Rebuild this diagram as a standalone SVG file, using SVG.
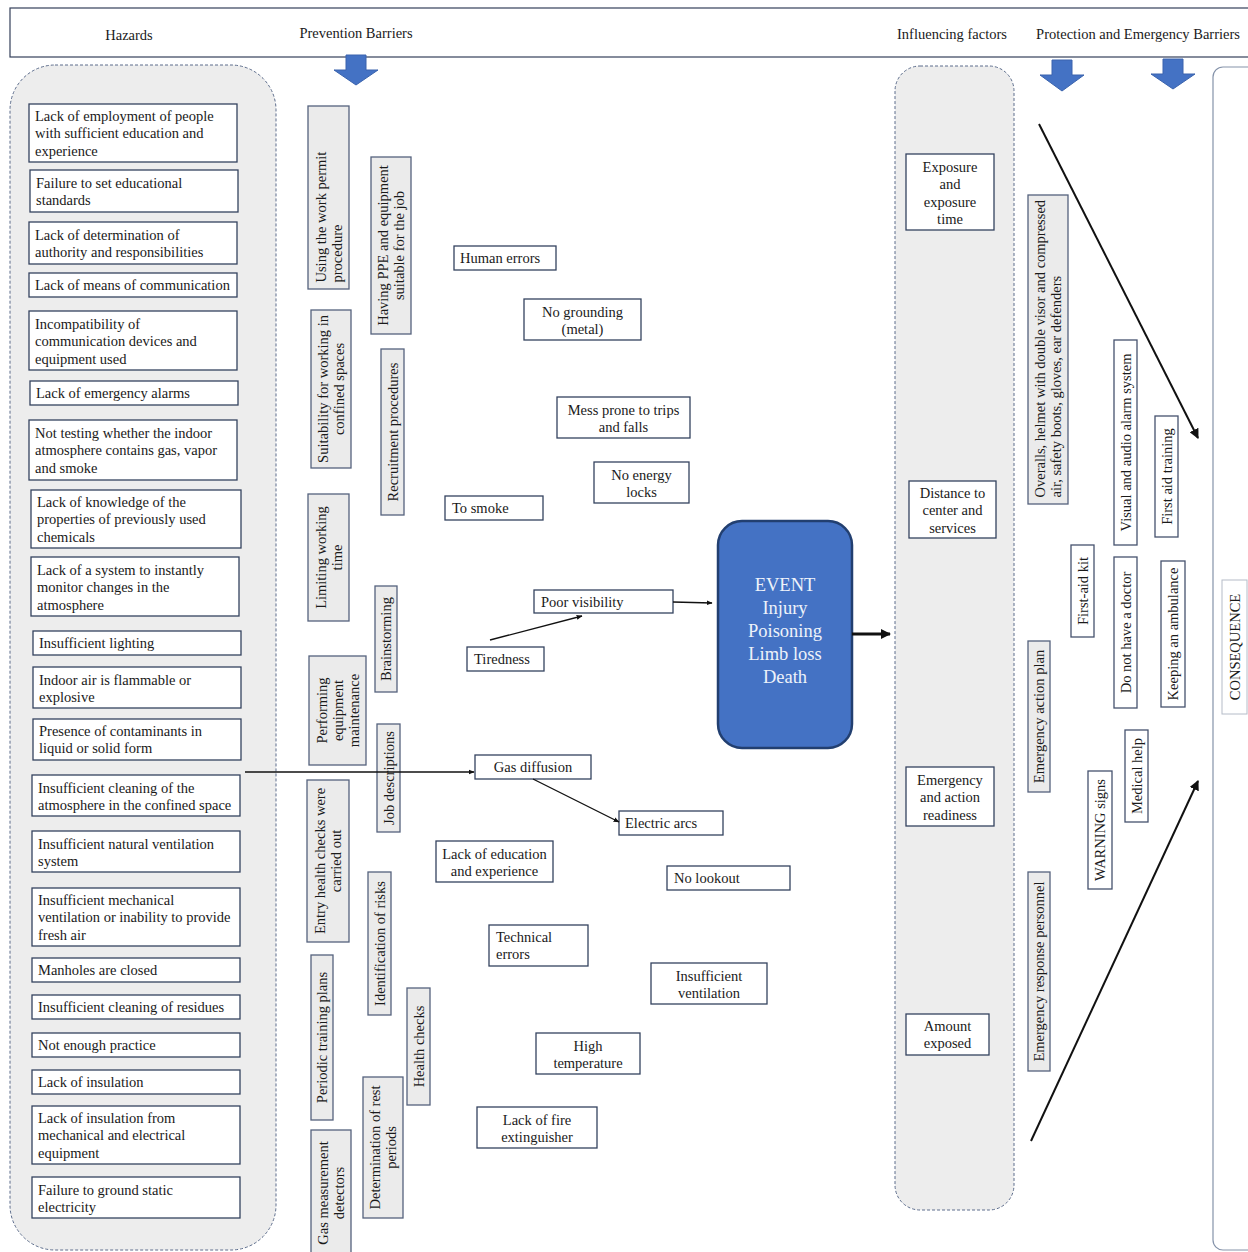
<svg xmlns="http://www.w3.org/2000/svg" width="1248" height="1252" viewBox="0 0 1248 1252">
<style>
text{font-family:"Liberation Serif","Times New Roman",serif;font-size:14.5px;fill:#1a1a1a}
.hdr{font-size:14.5px}
.hz{fill:#ffffff;stroke:#34425f;stroke-width:1.3}
.gv{fill:#ebebeb;stroke:#55627d;stroke-width:1.3}
.wv{fill:#ffffff;stroke:#45526e;stroke-width:1.3}
.cont{fill:#ededed;stroke:#5d6d8c;stroke-width:1;stroke-dasharray:3 2}
.conn{stroke:#111;stroke-width:1.3;fill:none}
.blk{fill:#4472c4;stroke:#3a63ad;stroke-width:1}
.ev{font-size:18.5px;fill:#eef2fa}
</style>
<defs>
<marker id="ah" viewBox="0 0 10 10" refX="9" refY="5" markerWidth="6" markerHeight="6" orient="auto" markerUnits="userSpaceOnUse">
<path d="M0,1 L10,5 L0,9 z" fill="#111"/>
</marker>
<marker id="ahb" viewBox="0 0 10 10" refX="9" refY="5" markerWidth="10" markerHeight="10" orient="auto" markerUnits="userSpaceOnUse">
<path d="M0,0 L10,5 L0,10 z" fill="#111"/>
</marker>
</defs>
<rect width="1248" height="1252" fill="#ffffff"/>

<g id="header">
<rect x="10" y="8" width="1250" height="49" fill="#ffffff" stroke="#34405a" stroke-width="1.2"/>
<text class="hdr" x="129" y="40" text-anchor="middle">Hazards</text>
<text class="hdr" x="356" y="38" text-anchor="middle">Prevention Barriers</text>
<text class="hdr" x="952" y="39" text-anchor="middle">Influencing factors</text>
<text class="hdr" x="1138" y="39" text-anchor="middle">Protection and Emergency Barriers</text>
</g>

<g id="block-arrows">
<path class="blk" d="M346,55 H366 V70 H378 L356,85 L334,70 H346 Z"/>
<path class="blk" d="M1052,60 H1072 V75 H1084 L1062,91 L1040,75 H1052 Z"/>
<path class="blk" d="M1163,59 H1183 V74 H1195 L1173,89 L1151,74 H1163 Z"/>
</g>

<g id="hazards-container"><rect class="cont" x="10" y="65" width="266" height="1185" rx="45"/></g>
<g id="influencing-container"><rect class="cont" x="895" y="66" width="119" height="1144" rx="25"/></g>
<g id="consequence-container"><rect x="1213" y="67" width="60" height="1183" rx="10" fill="#ffffff" stroke="#8593aa" stroke-width="1.2"/></g>

<g id="hazard-nodes">
<g id="h1"><rect class="hz" x="29" y="104" width="208" height="58"/><text x="35" y="121">Lack of employment of people<tspan x="35" dy="17.4">with sufficient education and</tspan><tspan x="35" dy="17.4">experience</tspan></text></g>
<g id="h2"><rect class="hz" x="30" y="170" width="208" height="42"/><text x="36" y="188">Failure to set educational<tspan x="36" dy="17.4">standards</tspan></text></g>
<g id="h3"><rect class="hz" x="29" y="222" width="208" height="42"/><text x="35" y="240">Lack of determination of<tspan x="35" dy="17.4">authority and responsibilities</tspan></text></g>
<g id="h4"><rect class="hz" x="29" y="273" width="208" height="24"/><text x="35" y="290">Lack of means of communication</text></g>
<g id="h5"><rect class="hz" x="29" y="311" width="208" height="59"/><text x="35" y="329">Incompatibility of<tspan x="35" dy="17.4">communication devices and</tspan><tspan x="35" dy="17.4">equipment used</tspan></text></g>
<g id="h6"><rect class="hz" x="30" y="381" width="208" height="24"/><text x="36" y="398">Lack of emergency alarms</text></g>
<g id="h7"><rect class="hz" x="29" y="420" width="208" height="60"/><text x="35" y="438">Not testing whether the indoor<tspan x="35" dy="17.4">atmosphere contains gas, vapor</tspan><tspan x="35" dy="17.4">and smoke</tspan></text></g>
<g id="h8"><rect class="hz" x="31" y="490" width="210" height="58"/><text x="37" y="507">Lack of knowledge of the<tspan x="37" dy="17.4">properties of previously used</tspan><tspan x="37" dy="17.4">chemicals</tspan></text></g>
<g id="h9"><rect class="hz" x="31" y="557" width="208" height="59"/><text x="37" y="575">Lack of a system to instantly<tspan x="37" dy="17.4">monitor changes in the</tspan><tspan x="37" dy="17.4">atmosphere</tspan></text></g>
<g id="h10"><rect class="hz" x="33" y="631" width="208" height="24"/><text x="39" y="648">Insufficient lighting</text></g>
<g id="h11"><rect class="hz" x="33" y="667" width="208" height="41"/><text x="39" y="685">Indoor air is flammable or<tspan x="39" dy="17.4">explosive</tspan></text></g>
<g id="h12"><rect class="hz" x="33" y="719" width="208" height="41"/><text x="39" y="736">Presence of contaminants in<tspan x="39" dy="17.4">liquid or solid form</tspan></text></g>
<g id="h13"><rect class="hz" x="32" y="775" width="208" height="41"/><text x="38" y="793">Insufficient cleaning of the<tspan x="38" dy="17.4">atmosphere in the confined space</tspan></text></g>
<g id="h14"><rect class="hz" x="32" y="831" width="208" height="41"/><text x="38" y="849">Insufficient natural ventilation<tspan x="38" dy="17.4">system</tspan></text></g>
<g id="h15"><rect class="hz" x="32" y="888" width="208" height="58"/><text x="38" y="905">Insufficient mechanical<tspan x="38" dy="17.4">ventilation or inability to provide</tspan><tspan x="38" dy="17.4">fresh air</tspan></text></g>
<g id="h16"><rect class="hz" x="32" y="958" width="208" height="24"/><text x="38" y="975">Manholes are closed</text></g>
<g id="h17"><rect class="hz" x="32" y="995" width="208" height="24"/><text x="38" y="1012">Insufficient cleaning of residues</text></g>
<g id="h18"><rect class="hz" x="32" y="1033" width="208" height="24"/><text x="38" y="1050">Not enough practice</text></g>
<g id="h19"><rect class="hz" x="32" y="1070" width="208" height="24"/><text x="38" y="1087">Lack of insulation</text></g>
<g id="h20"><rect class="hz" x="32" y="1106" width="208" height="58"/><text x="38" y="1123">Lack of insulation from<tspan x="38" dy="17.4">mechanical and electrical</tspan><tspan x="38" dy="17.4">equipment</tspan></text></g>
<g id="h21"><rect class="hz" x="32" y="1177" width="208" height="41"/><text x="38" y="1195">Failure to ground static<tspan x="38" dy="17.4">electricity</tspan></text></g>
</g>

<g id="prevention-barriers">
<g id="p-using"><rect class="gv" x="308" y="106" width="41" height="183"/><text transform="translate(328.5,197.5) rotate(-90)" text-anchor="start"><tspan x="-85" y="-3">Using the work permit</tspan><tspan x="-85" y="13">procedure</tspan></text></g>
<g id="p-ppe"><rect class="gv" x="371" y="157" width="40" height="177"/><text transform="translate(391,245.5) rotate(-90)" text-anchor="middle"><tspan x="0" y="-3">Having PPE and equipment</tspan><tspan x="0" y="13">suitable for the job</tspan></text></g>
<g id="p-suit"><rect class="gv" x="311" y="310" width="40" height="158"/><text transform="translate(331,389) rotate(-90)" text-anchor="middle"><tspan x="0" y="-3">Suitability for working in</tspan><tspan x="0" y="13">confined spaces</tspan></text></g>
<g id="p-recruit"><rect class="gv" x="381" y="349" width="23" height="166"/><text transform="translate(392.5,432) rotate(-90)" text-anchor="middle" y="5">Recruitment procedures</text></g>
<g id="p-limit"><rect class="gv" x="308" y="494" width="41" height="127"/><text transform="translate(328.5,557.5) rotate(-90)" text-anchor="middle"><tspan x="0" y="-3">Limiting working</tspan><tspan x="0" y="13">time</tspan></text></g>
<g id="p-brain"><rect class="gv" x="375" y="586" width="22" height="106"/><text transform="translate(386,639) rotate(-90)" text-anchor="middle" y="5">Brainstorming</text></g>
<g id="p-maint"><rect class="gv" x="309" y="656" width="57" height="109"/><text transform="translate(337.5,710.5) rotate(-90)" text-anchor="middle"><tspan x="0" y="-11">Performing</tspan><tspan x="0" y="5">equipment</tspan><tspan x="0" y="21">maintenance</tspan></text></g>
<g id="p-job"><rect class="gv" x="377" y="724" width="23" height="108"/><text transform="translate(388.5,778) rotate(-90)" text-anchor="middle" y="5">Job descriptions</text></g>
<g id="p-entry"><rect class="gv" x="307" y="780" width="42" height="162"/><text transform="translate(328,861) rotate(-90)" text-anchor="middle"><tspan x="0" y="-3">Entry health checks were</tspan><tspan x="0" y="13">carried out</tspan></text></g>
<g id="p-ident"><rect class="gv" x="368" y="872" width="23" height="143"/><text transform="translate(379.5,943.5) rotate(-90)" text-anchor="middle" y="5">Identification of risks</text></g>
<g id="p-periodic"><rect class="gv" x="311" y="955" width="22" height="165"/><text transform="translate(322,1037.5) rotate(-90)" text-anchor="middle" y="5">Periodic training plans</text></g>
<g id="p-health"><rect class="gv" x="407" y="988" width="23" height="117"/><text transform="translate(418.5,1046.5) rotate(-90)" text-anchor="middle" y="5">Health checks</text></g>
<g id="p-rest"><rect class="gv" x="363" y="1077" width="40" height="141"/><text transform="translate(383,1147.5) rotate(-90)" text-anchor="middle"><tspan x="0" y="-3">Determination of rest</tspan><tspan x="0" y="13">periods</tspan></text></g>
<g id="p-gas"><rect class="gv" x="311" y="1130" width="40" height="126"/><text transform="translate(331,1193) rotate(-90)" text-anchor="middle"><tspan x="0" y="-3">Gas measurement</tspan><tspan x="0" y="13">detectors</tspan></text></g>
</g>

<g id="causes">
<g id="c-human"><rect class="hz" x="454" y="246" width="102" height="24"/><text x="460" y="263">Human errors</text></g>
<g id="c-ground"><rect class="hz" x="524" y="299" width="117" height="41"/><text x="582.5" y="317" text-anchor="middle">No grounding<tspan x="582.5" dy="17.4">(metal)</tspan></text></g>
<g id="c-mess"><rect class="hz" x="557" y="397" width="133" height="41"/><text x="623.5" y="415" text-anchor="middle">Mess prone to trips<tspan x="623.5" dy="17.4">and falls</tspan></text></g>
<g id="c-energy"><rect class="hz" x="594" y="462" width="95" height="41"/><text x="641.5" y="480" text-anchor="middle">No energy<tspan x="641.5" dy="17.4">locks</tspan></text></g>
<g id="c-smoke"><rect class="hz" x="445" y="496" width="98" height="24"/><text x="452" y="513">To smoke</text></g>
<g id="c-vis"><rect class="hz" x="534" y="590" width="139" height="23"/><text x="541" y="607">Poor visibility</text></g>
<g id="c-tired"><rect class="hz" x="467" y="647" width="77" height="24"/><text x="474" y="664">Tiredness</text></g>
<g id="c-gas"><rect class="hz" x="475" y="755" width="116" height="24"/><text x="533" y="772" text-anchor="middle">Gas diffusion</text></g>
<g id="c-arcs"><rect class="hz" x="619" y="811" width="104" height="24"/><text x="625" y="828">Electric arcs</text></g>
<g id="c-edu"><rect class="hz" x="436" y="841" width="117" height="41"/><text x="494.5" y="859" text-anchor="middle">Lack of education<tspan x="494.5" dy="17.4">and experience</tspan></text></g>
<g id="c-lookout"><rect class="hz" x="667" y="866" width="123" height="24"/><text x="674" y="883">No lookout</text></g>
<g id="c-tech"><rect class="hz" x="489" y="925" width="99" height="41"/><text x="496" y="942">Technical<tspan x="496" dy="17.4">errors</tspan></text></g>
<g id="c-vent"><rect class="hz" x="651" y="963" width="116" height="41"/><text x="709" y="981" text-anchor="middle">Insufficient<tspan x="709" dy="17.4">ventilation</tspan></text></g>
<g id="c-temp"><rect class="hz" x="536" y="1033" width="104" height="41"/><text x="588" y="1051" text-anchor="middle">High<tspan x="588" dy="17.4">temperature</tspan></text></g>
<g id="c-fire"><rect class="hz" x="477" y="1107" width="120" height="41"/><text x="537" y="1125" text-anchor="middle">Lack of fire<tspan x="537" dy="17.4">extinguisher</tspan></text></g>
</g>

<g id="event">
<rect x="718" y="521" width="134" height="227" rx="24" fill="#4472c4" stroke="#223f70" stroke-width="2.5"/>
<text class="ev" x="785" y="591" text-anchor="middle">EVENT<tspan x="785" dy="23">Injury</tspan><tspan x="785" dy="23">Poisoning</tspan><tspan x="785" dy="23">Limb loss</tspan><tspan x="785" dy="23">Death</tspan></text>
</g>

<g id="influencing-factors">
<g id="f-exposure"><rect class="hz" x="906" y="154" width="88" height="76"/><text x="950" y="172" text-anchor="middle">Exposure<tspan x="950" dy="17.4">and</tspan><tspan x="950" dy="17.4">exposure</tspan><tspan x="950" dy="17.4">time</tspan></text></g>
<g id="f-distance"><rect class="hz" x="909" y="481" width="87" height="57"/><text x="952.5" y="498" text-anchor="middle">Distance to<tspan x="952.5" dy="17.4">center and</tspan><tspan x="952.5" dy="17.4">services</tspan></text></g>
<g id="f-ready"><rect class="hz" x="906" y="767" width="88" height="59"/><text x="950" y="785" text-anchor="middle">Emergency<tspan x="950" dy="17.4">and action</tspan><tspan x="950" dy="17.4">readiness</tspan></text></g>
<g id="f-amount"><rect class="hz" x="906" y="1014" width="83" height="41"/><text x="947.5" y="1031" text-anchor="middle">Amount<tspan x="947.5" dy="17.4">exposed</tspan></text></g>
</g>

<g id="protection-barriers">
<g id="b-overalls"><rect class="gv" x="1028" y="195" width="40" height="309"/><text transform="translate(1048,349.5) rotate(-90)" text-anchor="start"><tspan x="-148" y="-3">Overalls, helmet with double visor and compressed</tspan><tspan x="-148" y="13">air, safety boots, gloves, ear defenders</tspan></text></g>
<g id="b-alarm"><rect class="wv" x="1114" y="340" width="23" height="205"/><text transform="translate(1125.5,442.5) rotate(-90)" text-anchor="middle" y="5">Visual and audio alarm system</text></g>
<g id="b-fatrain"><rect class="wv" x="1155" y="416" width="23" height="121"/><text transform="translate(1166.5,476.5) rotate(-90)" text-anchor="middle" y="5">First aid training</text></g>
<g id="b-kit"><rect class="wv" x="1071" y="545" width="23" height="92"/><text transform="translate(1082.5,591) rotate(-90)" text-anchor="middle" y="5">First-aid kit</text></g>
<g id="b-doctor"><rect class="wv" x="1114" y="557" width="23" height="151"/><text transform="translate(1125.5,632.5) rotate(-90)" text-anchor="middle" y="5">Do not have a doctor</text></g>
<g id="b-ambulance"><rect class="wv" x="1161" y="561" width="24" height="146"/><text transform="translate(1173,634) rotate(-90)" text-anchor="middle" y="5">Keeping an ambulance</text></g>
<g id="b-plan"><rect class="gv" x="1028" y="641" width="22" height="151"/><text transform="translate(1039,716.5) rotate(-90)" text-anchor="middle" y="5">Emergency action plan</text></g>
<g id="b-medical"><rect class="wv" x="1125" y="730" width="23" height="92"/><text transform="translate(1136.5,776) rotate(-90)" text-anchor="middle" y="5">Medical help</text></g>
<g id="b-warning"><rect class="wv" x="1088" y="771" width="24" height="118"/><text transform="translate(1100,830) rotate(-90)" text-anchor="middle" y="5">WARNING signs</text></g>
<g id="b-personnel"><rect class="gv" x="1028" y="872" width="22" height="199"/><text transform="translate(1039,971.5) rotate(-90)" text-anchor="middle" y="5">Emergency response personnel</text></g>
</g>

<g id="consequence">
<rect x="1222" y="580" width="25" height="134" fill="#ffffff" stroke="#b5bcc8" stroke-width="1"/>
<text transform="translate(1234.5,647) rotate(-90)" text-anchor="middle" y="5">CONSEQUENCE</text>
</g>

<g id="connectors">
<line class="conn" x1="245" y1="772" x2="474" y2="772" marker-end="url(#ah)"/>
<line class="conn" x1="533" y1="779" x2="619" y2="822" marker-end="url(#ah)"/>
<line class="conn" x1="490" y1="640" x2="582" y2="616" marker-end="url(#ah)"/>
<line class="conn" x1="673" y1="602" x2="712" y2="603" marker-end="url(#ah)"/>
<line class="conn" style="stroke-width:3" x1="852" y1="634" x2="890" y2="634" marker-end="url(#ahb)"/>
<line class="conn" style="stroke-width:2" x1="1039" y1="124" x2="1198" y2="438" marker-end="url(#ahb)"/>
<line class="conn" style="stroke-width:2" x1="1031" y1="1141" x2="1198" y2="781" marker-end="url(#ahb)"/>
</g>
</svg>
